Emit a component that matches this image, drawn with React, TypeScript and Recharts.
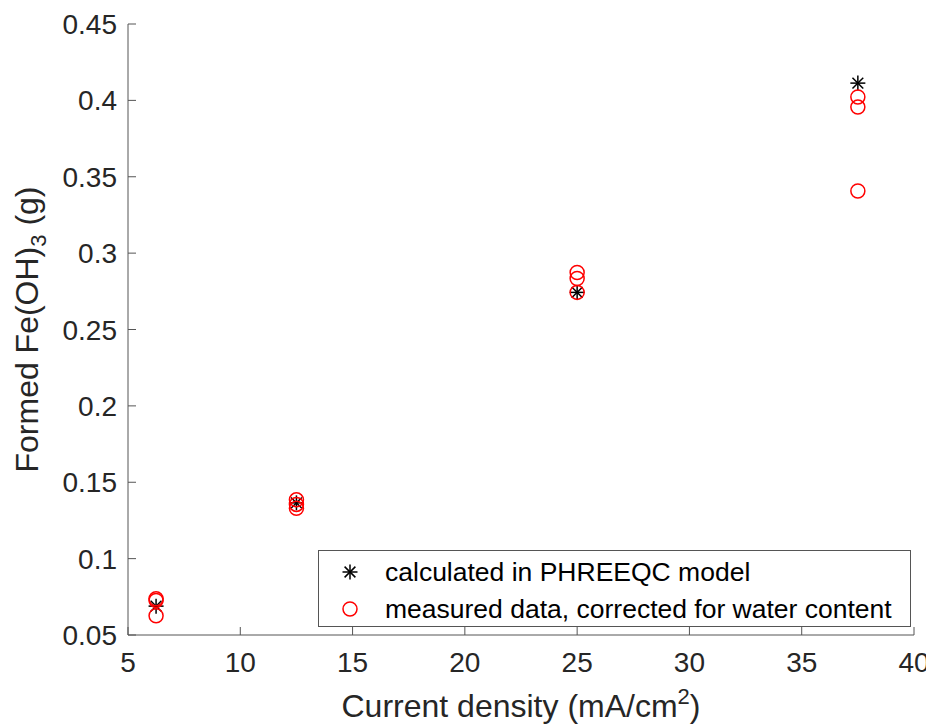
import React from 'react'
import { ScatterChart, Scatter, XAxis, YAxis } from 'recharts'

// current density (mA/cm2) and formed Fe(OH)3 (g)
const calcX = [6.25, 12.5, 25, 37.5]
const calcY = [0.0689, 0.1365, 0.2743, 0.4113]

const measX = [6.25, 6.25, 6.25, 12.5, 12.5, 12.5, 25, 25, 25, 37.5, 37.5, 37.5]
const measY = [0.0737, 0.0726, 0.0626, 0.1385, 0.1355, 0.133, 0.2873, 0.2834, 0.2743, 0.4022, 0.3956, 0.3407]

const xTicks = [5, 10, 15, 20, 25, 30, 35, 40]
const yTicks = [0.05, 0.1, 0.15, 0.2, 0.25, 0.3, 0.35, 0.4, 0.45]
const yTickLabels = ['0.05', '0.1', '0.15', '0.2', '0.25', '0.3', '0.35', '0.4', '0.45']

const legendLabels = ['calculated in PHREEQC model', 'measured data, corrected for water content']

const calcData = calcX.map((x, i) => ({ x, y: calcY[i] }))
const measData = measX.map((x, i) => ({ x, y: measY[i] }))

const FONT = '"Liberation Sans", Arial, Helvetica, sans-serif'
const TEXT = '#262626'
const BOX = '#555555'
const TICK_LEN = 8

const Star = ({ cx, cy }: any) => {
  const r = 7.5
  const d = r * 0.72
  return (
    <g stroke="#000" strokeWidth={1.5}>
      <line x1={cx - r} x2={cx + r} y1={cy} y2={cy} />
      <line x1={cx} x2={cx} y1={cy - r} y2={cy + r} />
      <line x1={cx - d} x2={cx + d} y1={cy - d} y2={cy + d} />
      <line x1={cx - d} x2={cx + d} y1={cy + d} y2={cy - d} />
    </g>
  )
}

const Ring = ({ cx, cy }: any) => (
  <circle cx={cx} cy={cy} r={7} fill="none" stroke="#ff0000" strokeWidth={1.5} />
)

const BottomTick = ({ x, y, payload }: any) => (
  <g>
    <line x1={x} x2={x} y1={y} y2={y - TICK_LEN} stroke={BOX} />
    <text x={x} y={y + 37} textAnchor="middle" fontSize={28} fontFamily={FONT} fill={TEXT}>
      {payload.value}
    </text>
  </g>
)

const TopTick = ({ x, y }: any) => (
  <line x1={x} x2={x} y1={y} y2={y + TICK_LEN} stroke={BOX} />
)

const LeftTick = ({ x, y, payload, index }: any) => (
  <g>
    <line x1={x} x2={x + TICK_LEN} y1={y} y2={y} stroke={BOX} />
    <text x={x - 11} y={y + 10} textAnchor="end" fontSize={28} fontFamily={FONT} fill={TEXT}>
      {yTickLabels[index] ?? payload.value}
    </text>
  </g>
)

const RightTick = ({ x, y }: any) => (
  <line x1={x} x2={x - TICK_LEN} y1={y} y2={y} stroke={BOX} />
)

const XTitle = ({ viewBox }: any) => {
  const cx = viewBox.x + viewBox.width / 2
  return (
    <text x={cx} y={viewBox.y + 82} textAnchor="middle" fontSize={32} fontFamily={FONT} fill={TEXT}>
      Current density (mA/cm
      <tspan dy={-13} fontSize={22}>2</tspan>
      <tspan dy={13}>)</tspan>
    </text>
  )
}

const YTitle = ({ viewBox }: any) => {
  const cy = viewBox.y + viewBox.height / 2
  return (
    <text
      transform={`translate(30, ${cy}) rotate(-90)`}
      textAnchor="middle"
      fontSize={32}
      fontFamily={FONT}
      fill={TEXT}
    >
      Formed Fe(OH)
      <tspan dy={8} fontSize={22}>3</tspan>
      <tspan dy={-8}> (g)</tspan>
    </text>
  )
}

function LegendBox() {
  return (
    <div
      style={{
        position: 'absolute',
        left: 310,
        top: 542,
        width: 591,
        height: 75,
        border: '1px solid #555',
        background: '#fff',
      }}
    >
      <svg width={591} height={75} style={{ position: 'absolute', left: 0, top: 0 }}>
        <Star cx={31} cy={21} />
        <Ring cx={31} cy={58} />
        <text x={66} y={30} fontSize={26.5} fontFamily={FONT} fill="#000">
          {legendLabels[0]}
        </text>
        <text x={66} y={67} fontSize={26.5} fontFamily={FONT} fill="#000">
          {legendLabels[1]}
        </text>
      </svg>
    </div>
  )
}

export default function App() {
  return (
    <div style={{ position: 'relative', width: 926, height: 719, background: '#fff' }}>
      <ScatterChart
        width={926}
        height={719}
        margin={{ top: 16, right: 20, bottom: 0, left: 0 }}
        style={{ overflow: 'visible' }}
      >
        <XAxis
          dataKey="x"
          type="number"
          domain={[5, 40]}
          ticks={xTicks}
          interval={0}
          allowDataOverflow
          height={92}
          tickSize={0}
          tickMargin={0}
          tickLine={false}
          axisLine={{ stroke: BOX }}
          tick={<BottomTick />}
          label={{ content: <XTitle /> }}
        />
        <XAxis
          xAxisId="top"
          orientation="top"
          type="number"
          domain={[5, 40]}
          ticks={xTicks}
          interval={0}
          allowDataOverflow
          height={0}
          tickSize={0}
          tickMargin={0}
          tickLine={false}
          axisLine={{ stroke: BOX }}
          tick={<TopTick />}
        />
        <YAxis
          dataKey="y"
          type="number"
          domain={[0.05, 0.45]}
          ticks={yTicks}
          interval={0}
          allowDataOverflow
          width={120}
          tickSize={0}
          tickMargin={0}
          tickLine={false}
          axisLine={{ stroke: BOX }}
          tick={<LeftTick />}
          label={{ content: <YTitle /> }}
        />
        <YAxis
          yAxisId="right"
          orientation="right"
          type="number"
          domain={[0.05, 0.45]}
          ticks={yTicks}
          interval={0}
          allowDataOverflow
          width={0}
          tickSize={0}
          tickMargin={0}
          tickLine={false}
          axisLine={{ stroke: BOX }}
          tick={<RightTick />}
        />
        <Scatter data={calcData} shape={<Star />} isAnimationActive={false} />
        <Scatter data={measData} shape={<Ring />} isAnimationActive={false} />
      </ScatterChart>
      <LegendBox />
    </div>
  )
}
